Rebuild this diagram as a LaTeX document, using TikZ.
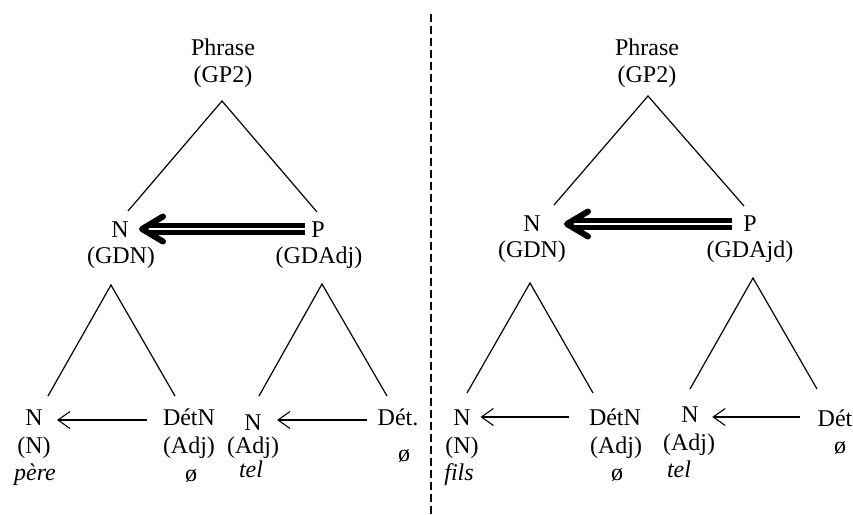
\documentclass[tikz,border=0pt]{standalone}
\usepackage{fontspec}
\setmainfont{Liberation Serif}
\usetikzlibrary{arrows.meta}
\begin{document}
\begin{tikzpicture}[x=0.5pt,y=-0.5pt,
  lbl/.style={anchor=base,inner sep=0pt,font=\fontsize{12}{14}\selectfont},
  tree/.style={line width=0.6pt},
  weak/.style={line width=0.55pt,-{Straight Barb[length=6pt,width=8.5pt,line width=0.55pt]}},
  dbl/.style={double,double distance=1pt,line width=2.6pt},
  chev/.style={line width=3pt,line cap=round,line join=round},
  sep/.style={line width=1pt,dash pattern=on 4pt off 2pt}]
\useasboundingbox (0,0) rectangle (853,515);

% separator
\coordinate (dtop) at (431,14);
\coordinate (dbot) at (431,515);
\draw[sep] (dtop) -- (dbot);

% ---------- left tree ----------
\node[lbl] (phA) at (223,55) {Phrase};
\node[lbl] (gpA) at (223,82) {(GP2)};
\node[lbl] (nA) at (120,237) {N};
\node[lbl] (gdnA) at (121,263) {(GDN)};
\node[lbl] (pA) at (318,237) {P};
\node[lbl] (gdadjA) at (319,263) {(GDAdj)};

\node[lbl] (nA1) at (34,425) {N};
\node[lbl] (nnA) at (34,453) {(N)};
\node[lbl] (pere) at (35,480) {\itshape père};
\node[lbl] (detNA) at (189,425) {DétN};
\node[lbl] (adjA1) at (189,453) {(Adj)};
\node[lbl] (oA1) at (191,481) {ø};
\node[lbl] (nA2) at (253,430) {N};
\node[lbl] (adjA2) at (253,453) {(Adj)};
\node[lbl] (telA) at (251,477) {\itshape tel};
\node[lbl] (detA) at (398,425) {Dét.};
\node[lbl] (oA2) at (404,461) {ø};

\coordinate (tA) at (222,101);
\coordinate (tAl) at (128,211);
\coordinate (tAr) at (317,212);
\draw[tree] (tAl) -- (tA) -- (tAr);
\coordinate (sA1) at (111,285);
\coordinate (sA1l) at (48,396);
\coordinate (sA1r) at (175,396);
\draw[tree] (sA1l) -- (sA1) -- (sA1r);
\coordinate (sA2) at (322,284);
\coordinate (sA2l) at (259,396);
\coordinate (sA2r) at (387,396);
\draw[tree] (sA2l) -- (sA2) -- (sA2r);

\coordinate (hA) at (142,229);
\draw[dbl,shorten <=3pt,shorten >=3pt] (pA.west |- 0,229) -- (hA);
\draw[chev] ([shift={(21,-12.5)}]hA) -- (hA) -- ([shift={(21,12.5)}]hA);

\draw[weak,shorten <=8pt,shorten >=7pt] (detNA.west |- 0,420) -- (nA1.east |- 0,420);
\draw[weak,shorten <=5.3pt,shorten >=7.5pt] (detA.west |- 0,420) -- (nA2.east |- 0,420);

% ---------- right tree ----------
\node[lbl] (phB) at (647,55) {Phrase};
\node[lbl] (gpB) at (647,82) {(GP2)};
\node[lbl] (nB) at (532,231) {N};
\node[lbl] (gdnB) at (532,257) {(GDN)};
\node[lbl] (pB) at (750,231) {P};
\node[lbl] (gdajdB) at (750,257) {(GDAjd)};

\node[lbl] (nB1) at (462,425) {N};
\node[lbl] (nnB) at (462,453) {(N)};
\node[lbl] (fils) at (459,480) {\itshape fils};
\node[lbl] (detNB) at (615,425) {DétN};
\node[lbl] (adjB1) at (616,453) {(Adj)};
\node[lbl] (oB1) at (617,480) {ø};
\node[lbl] (nB2) at (690,422) {N};
\node[lbl] (adjB2) at (689,450) {(Adj)};
\node[lbl] (telB) at (679,477) {\itshape tel};
\node[lbl] (detB) at (835,426) {Dét};
\node[lbl] (oB2) at (840,453) {ø};

\coordinate (tB) at (648,96);
\coordinate (tBl) at (554,205);
\coordinate (tBr) at (744,206);
\draw[tree] (tBl) -- (tB) -- (tBr);
\coordinate (sB1) at (530,283);
\coordinate (sB1l) at (467,393);
\coordinate (sB1r) at (593,393);
\draw[tree] (sB1l) -- (sB1) -- (sB1r);
\coordinate (sB2) at (753,278);
\coordinate (sB2l) at (690,389);
\coordinate (sB2r) at (817,389);
\draw[tree] (sB2l) -- (sB2) -- (sB2r);

\coordinate (hB) at (567,224);
\draw[dbl,shorten <=5.5pt,shorten >=3pt] (pB.west |- 0,224) -- (hB);
\draw[chev] ([shift={(21,-12.5)}]hB) -- (hB) -- ([shift={(21,12.5)}]hB);

\draw[weak,shorten <=10pt,shorten >=4.7pt] (detNB.west |- 0,417) -- (nB1.east |- 0,417);
\draw[weak,shorten <=8.8pt,shorten >=6.6pt] (detB.west |- 0,417) -- (nB2.east |- 0,417);
\end{tikzpicture}
\end{document}
